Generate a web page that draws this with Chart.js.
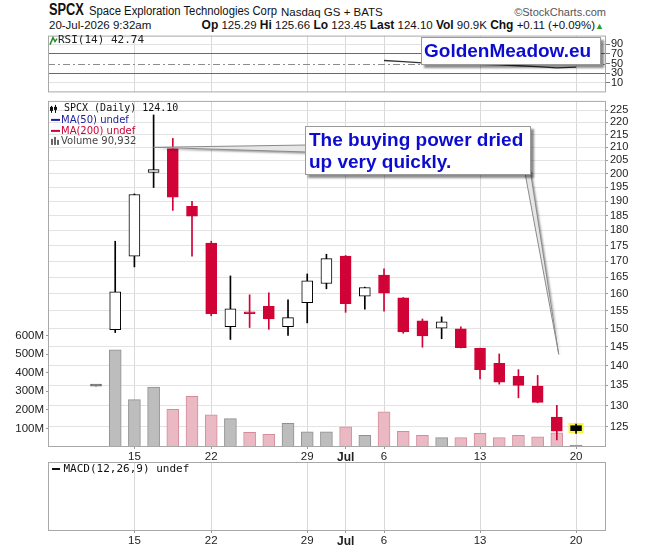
<!DOCTYPE html>
<html>
<head>
<meta charset="utf-8">
<script src="https://cdn.jsdelivr.net/npm/chart.js@4"></script>
<style>
	body { margin: 0; background: #fff; width: 646px; height: 548px; overflow: hidden; position: relative; font-family: "Liberation Sans", Arial, sans-serif; color: #111; }
	canvas { position: absolute; left: 0; }
	.txt { position: absolute; white-space: nowrap; }
	.narrow { display: inline-block; transform-origin: 0 50%; }
	.note { position: absolute; background: #fff; border: 1px solid #9a9a9a; box-shadow: 3px 3px 2px rgba(0, 0, 0, 0.45); color: #0c0cd0; font-weight: bold; font-size: 19px; box-sizing: border-box; white-space: nowrap; }
</style>
</head>
<body>
<div class="txt" style="left:49px;top:0px;line-height:20px;font-size:16px;font-weight:bold;"><span class="narrow" style="transform:scaleX(0.8)">SPCX</span></div>
<div class="txt" style="left:89px;top:2px;line-height:18px;font-size:12px;"><span class="narrow" style="transform:scaleX(0.94)">Space Exploration Technologies Corp</span></div>
<div class="txt" style="left:281px;top:3px;line-height:18px;font-size:11.5px;">Nasdaq GS + BATS</div>
<div class="txt" style="right:40px;top:3px;line-height:18px;font-size:11px;color:#555;">&copy;StockCharts.com</div>
<div class="txt" style="left:49px;top:18px;line-height:15px;font-size:11.5px;">20-Jul-2026 9:32am</div>
<div class="txt" style="right:42px;top:18px;line-height:15px;font-size:11.5px;"><b style="font-size:12px">Op</b> 125.29 <b style="font-size:12px">Hi</b> 125.66 <b style="font-size:12px">Lo</b> 123.45 <b style="font-size:12px">Last</b> 124.10 <b style="font-size:12px">Vol</b> 90.9K <b style="font-size:12px">Chg</b> +0.11 (+0.09%)<span style="color:#2a9d2a;font-size:9px;">&#9650;</span></div>

<canvas id="rsiCanvas" width="646" height="72" style="top:28px"></canvas>
<canvas id="mainCanvas" width="646" height="370" style="top:92px"></canvas>
<canvas id="macdCanvas" width="646" height="93" style="top:455px"></canvas>

<div id="brandBox" class="note"></div>
<div id="calloutBox" class="note"></div>

<script>
const dates = ["2026-06-11", "2026-06-12", "2026-06-15", "2026-06-16", "2026-06-17", "2026-06-18", "2026-06-22", "2026-06-23", "2026-06-24", "2026-06-25", "2026-06-26", "2026-06-29", "2026-06-30", "2026-07-01", "2026-07-02", "2026-07-06", "2026-07-07", "2026-07-08", "2026-07-09", "2026-07-10", "2026-07-13", "2026-07-14", "2026-07-15", "2026-07-16", "2026-07-17", "2026-07-20"];
const opens = [134.8, 149.7, 171.6, 200.4, 209.5, 188.2, 175.8, 150.5, 154.4, 156.3, 150.5, 157.4, 163.1, 171.6, 159.3, 165.7, 158.8, 152.2, 150.1, 149.9, 144.6, 140.6, 137.3, 134.8, 127.3, 125.29];
const highs = [134.8, 176.4, 192.6, 223.0, 213.5, 190.0, 176.4, 165.4, 159.7, 160.3, 158.2, 166.0, 172.2, 171.8, 162.0, 167.6, 158.9, 152.7, 153.3, 150.5, 144.7, 143.1, 139.0, 137.5, 130.1, 125.66];
const lows = [134.8, 148.9, 168.2, 194.9, 186.8, 171.6, 153.6, 147.0, 150.3, 149.8, 148.1, 151.6, 161.5, 154.6, 155.5, 154.9, 148.7, 144.9, 147.2, 144.7, 136.6, 135.3, 131.9, 130.7, 122.0, 123.45];
const closes = [134.8, 160.6, 192.4, 201.5, 191.4, 184.8, 154.2, 155.6, 154.2, 152.7, 153.1, 163.9, 170.8, 157.1, 161.9, 160.2, 149.1, 148.0, 151.9, 144.8, 139.0, 135.8, 135.0, 130.8, 123.99, 124.10];
// volume in millions of shares
const volumes = [null, 522, 255, 322, 202, 273, 173, 153, 79, 68, 127, 82, 82, 109, 63, 189, 84, 63, 50, 50, 73, 50, 63, 55, 76, 0.090932];
const rsiValues = [null, null, null, null, null, null, null, null, null, null, null, null, null, null, null, 56.4, 54.0, 51.5, 50.5, 49.5, 48.5, 47.2, 45.5, 43.5, 41.2, 42.74];

const priceTicks = [125, 130, 135, 140, 145, 150, 155, 160, 165, 170, 175, 180, 185, 190, 195, 200, 205, 210, 215, 220, 225];
const volumeTicks = [100, 200, 300, 400, 500, 600];
const rsiTicks = [10, 30, 50, 70, 90];
const tickDates = ["2026-06-15", "2026-06-22", "2026-06-29", "2026-07-01", "2026-07-06", "2026-07-13", "2026-07-20"];
const tickLabels = ["15", "22", "29", "Jul", "6", "13", "20"];

const brandText = "GoldenMeadow.eu";
const calloutText = ["The buying power dried", "up very quickly."];

const RED = "rgb(208, 2, 54)";
const tickIndexes = tickDates.map((d) => dates.indexOf(d));
const xRange = { min: -2.5, max: 26.56 };

const candleColor = (i) => {
	if (i === 0) return "#666666";
	return closes[i] >= closes[i - 1] ? "#000000" : RED;
};

// placement of the two text boxes (page pixels)
const brand = { left: 421, top: 37, width: 180, height: 28 };
const callout = { left: 305, top: 126, width: 226, height: 49 };

const brandBox = document.getElementById("brandBox");
Object.assign(brandBox.style, { left: brand.left + "px", top: brand.top + "px", width: brand.width + "px", height: brand.height + "px", lineHeight: brand.height - 2 + "px", paddingLeft: "2px" });
brandBox.textContent = brandText;

const calloutBox = document.getElementById("calloutBox");
Object.assign(calloutBox.style, { left: callout.left + "px", top: callout.top + "px", width: callout.width + "px", height: callout.height + "px", lineHeight: "22px", padding: "2px 0 0 3px" });
calloutBox.innerHTML = calloutText.join("<br>");

const fixWidth = (w) => (scale) => {
	scale.width = w;
};
const fixHeight = (h) => (scale) => {
	scale.height = h;
};

const xAxis = (showLabels, height) => {
	return {
		type: "linear",
		min: xRange.min,
		max: xRange.max,
		offset: false,
		afterBuildTicks: (scale) => {
			scale.ticks = tickIndexes.map((v) => ({ value: v }));
		},
		afterFit: fixHeight(height),
		ticks: {
			display: showLabels,
			autoSkip: false,
			maxRotation: 0,
			padding: 1,
			color: "#222",
			font: (context) => {
				const isMonth = context.tick && tickLabels[tickIndexes.indexOf(context.tick.value)] === "Jul";
				return { family: "Liberation Sans", size: isMonth ? 12 : 11.5, weight: isMonth ? "bold" : "normal" };
			},
			callback: (value) => tickLabels[tickIndexes.indexOf(value)],
		},
		grid: {
			offset: false,
			color: "#d9d9d9",
			drawTicks: showLabels,
			tickLength: 2,
			tickColor: "#999",
		},
		border: { display: false },
	};
};

const drawFrame = (chart) => {
	const { ctx, chartArea } = chart;
	ctx.save();
	ctx.strokeStyle = "#a8a8a8";
	ctx.lineWidth = 1;
	ctx.strokeRect(chartArea.left + 0.5, chartArea.top + 0.5, chartArea.right - chartArea.left - 1, chartArea.bottom - chartArea.top - 1);
	ctx.restore();
};

const rsiOverlay = {
	id: "rsiOverlay",
	beforeDatasetsDraw(chart) {
		const { ctx, chartArea, scales } = chart;
		const y = Math.round(scales.y.getPixelForValue(50)) + 0.5;
		ctx.save();
		ctx.strokeStyle = "#8c8c8c";
		ctx.setLineDash([7, 3, 2, 3]);
		ctx.beginPath();
		ctx.moveTo(chartArea.left, y);
		ctx.lineTo(chartArea.right, y);
		ctx.stroke();
		ctx.restore();
	},
	afterDraw(chart) {
		const { ctx, chartArea } = chart;
		drawFrame(chart);
		ctx.save();
		// small chart icon
		ctx.strokeStyle = "#2a8a2a";
		ctx.lineWidth = 1.5;
		ctx.beginPath();
		ctx.moveTo(chartArea.left + 2, chartArea.top + 9);
		ctx.lineTo(chartArea.left + 5, chartArea.top + 2);
		ctx.lineTo(chartArea.left + 7, chartArea.top + 6);
		ctx.lineTo(chartArea.left + 9, chartArea.top + 3);
		ctx.stroke();
		ctx.fillStyle = "#222";
		ctx.font = '11px "DejaVu Sans Mono"';
		ctx.textBaseline = "middle";
		ctx.fillText("RSI(14) " + rsiValues[rsiValues.length - 1].toFixed(2), chartArea.left + 10, chartArea.top + 5);
		ctx.restore();
	},
};

const mainOverlay = {
	id: "mainOverlay",
	beforeDatasetsDraw(chart) {
		// yellow mark behind the latest candle
		const { ctx, scales } = chart;
		const last = dates.length - 1;
		const cx = scales.x.getPixelForValue(last);
		const top = scales.y.getPixelForValue(Math.max(opens[last], closes[last]));
		const bottom = scales.y.getPixelForValue(Math.min(opens[last], closes[last]));
		ctx.save();
		ctx.fillStyle = "#f6f63a";
		ctx.fillRect(cx - 7.5, top - 2.5, 15, bottom - top + 5);
		ctx.restore();
	},
	afterDatasetsDraw(chart) {
		const { ctx, scales, canvas } = chart;
		const offsetY = parseFloat(canvas.style.top);
		const boxL = callout.left;
		const boxT = callout.top - offsetY;
		const pointers = [
			{ tip: [scales.x.getPixelForValue(3), scales.y.getPixelForValue(210)], a: [boxL + 2, boxT + 19], b: [boxL + 2, boxT + 26] },
			{ tip: [scales.x.getPixelForValue(24.1), scales.y.getPixelForValue(143)], a: [boxL + callout.width - 6, boxT + callout.height - 2], b: [boxL + callout.width - 1, boxT + callout.height - 6] },
		];
		ctx.save();
		pointers.forEach((p) => {
			ctx.shadowColor = "rgba(0,0,0,0.35)";
			ctx.shadowOffsetX = 2;
			ctx.shadowOffsetY = 2;
			ctx.shadowBlur = 2;
			ctx.beginPath();
			ctx.moveTo(p.tip[0], p.tip[1]);
			ctx.lineTo(p.a[0], p.a[1]);
			ctx.lineTo(p.b[0], p.b[1]);
			ctx.closePath();
			ctx.fillStyle = "#e6e6e6";
			ctx.fill();
			ctx.shadowColor = "transparent";
			ctx.strokeStyle = "#8a8a8a";
			ctx.lineWidth = 1;
			ctx.stroke();
		});
		ctx.restore();
	},
	afterDraw(chart) {
		const { ctx, chartArea } = chart;
		drawFrame(chart);
		const x = chartArea.left;
		const y = chartArea.top;
		ctx.save();
		ctx.textBaseline = "middle";
		// legend icons
		ctx.fillStyle = "#111";
		ctx.fillRect(x + 3, y + 5, 1, 7);
		ctx.fillRect(x + 2, y + 6, 3, 4);
		ctx.fillRect(x + 7, y + 4, 1, 8);
		ctx.fillRect(x + 6, y + 6, 3, 3);
		ctx.fillStyle = "#1c1c9c";
		ctx.fillRect(x + 3, y + 18, 9, 2);
		ctx.fillStyle = RED;
		ctx.fillRect(x + 3, y + 29, 9, 2);
		ctx.fillStyle = "#666";
		ctx.fillRect(x + 3, y + 38, 2, 6);
		ctx.fillRect(x + 6, y + 36, 2, 8);
		ctx.fillRect(x + 9, y + 39, 2, 5);
		// legend text
		ctx.font = '10px "DejaVu Sans Mono"';
		ctx.fillStyle = "#111";
		ctx.fillText("SPCX (Daily) " + closes[closes.length - 1].toFixed(2), x + 16, y + 8);
		ctx.font = '10px "DejaVu Sans"';
		ctx.fillStyle = "#1c1c9c";
		ctx.fillText("MA(50) undef", x + 13, y + 19.5);
		ctx.fillStyle = RED;
		ctx.fillText("MA(200) undef", x + 13, y + 30.5);
		ctx.fillStyle = "#444";
		const lastVol = Math.round(volumes[volumes.length - 1] * 1e6);
		ctx.fillText("Volume " + lastVol.toLocaleString("en-US"), x + 13, y + 41);
		ctx.restore();
	},
};

const macdOverlay = {
	id: "macdOverlay",
	afterDraw(chart) {
		const { ctx, chartArea } = chart;
		drawFrame(chart);
		ctx.save();
		ctx.fillStyle = "#111";
		ctx.fillRect(chartArea.left + 4, chartArea.top + 6, 8, 2);
		ctx.font = '11px "DejaVu Sans Mono"';
		ctx.textBaseline = "middle";
		ctx.fillText("MACD(12,26,9) undef", chartArea.left + 15.5, chartArea.top + 7.5);
		ctx.restore();
	},
};

const createRsiChart = () => {
	const data = [];
	rsiValues.forEach((v, i) => {
		if (v !== null) data.push({ x: i, y: v });
	});
	return new Chart(document.getElementById("rsiCanvas"), {
		type: "line",
		data: {
			datasets: [
				{
					data: data,
					borderColor: "#333",
					borderWidth: 1.3,
					pointRadius: 0,
					tension: 0,
				},
			],
		},
		options: {
			responsive: false,
			animation: false,
			layout: { padding: { left: 48, top: 4, bottom: 3, right: 0 } },
			plugins: { legend: { display: false }, tooltip: { enabled: false } },
			scales: {
				x: xAxis(false, 0),
				y: {
					type: "linear",
					position: "right",
					min: -10,
					max: 108.3,
					afterFit: fixWidth(40),
					afterBuildTicks: (scale) => {
						scale.ticks = rsiTicks.map((v) => ({ value: v }));
					},
					ticks: { autoSkip: false, color: "#222", padding: 1, font: { family: "Liberation Sans", size: 11 } },
					grid: {
						tickLength: 4,
						tickColor: "#777",
						color: (context) => {
							const v = context.tick.value;
							if (v === 30 || v === 70) return "#6a6a6a";
							if (v === 50) return "rgba(0,0,0,0)";
							return "#e2e2e2";
						},
					},
					border: { display: false },
				},
			},
		},
		plugins: [rsiOverlay],
	});
};

const createMainChart = () => {
	const idx = dates.map((d, i) => i);
	const bodyColors = idx.map((i) => (closes[i] >= opens[i] && i > 0 ? "#ffffff" : candleColor(i)));
	const volumeFill = idx.map((i) => (i > 0 && closes[i] > closes[i - 1] ? "#bdbdbd" : "#ebb9c4"));
	const volumeBorder = idx.map((i) => (i > 0 && closes[i] > closes[i - 1] ? "#909090" : "#d48c9c"));
	return new Chart(document.getElementById("mainCanvas"), {
		type: "bar",
		data: {
			datasets: [
				{
					label: "body",
					data: idx.map((i) => ({ x: i, y: [opens[i], closes[i]] })),
					backgroundColor: bodyColors,
					borderColor: idx.map(candleColor),
					borderWidth: 1,
					borderSkipped: false,
					barThickness: 11,
					minBarLength: 2,
					grouped: false,
					yAxisID: "y",
					order: 1,
				},
				{
					label: "wick",
					data: idx.map((i) => ({ x: i, y: [lows[i], highs[i]] })),
					backgroundColor: idx.map(candleColor),
					borderWidth: 0,
					barThickness: 1,
					grouped: false,
					yAxisID: "y",
					order: 2,
				},
				{
					label: "volume",
					data: idx.map((i) => ({ x: i, y: volumes[i] })),
					backgroundColor: volumeFill,
					borderColor: volumeBorder,
					borderWidth: 1,
					barThickness: 12,
					minBarLength: 2,
					grouped: false,
					yAxisID: "vol",
					order: 3,
				},
			],
		},
		options: {
			responsive: false,
			animation: false,
			layout: { padding: { left: 0, top: 7, bottom: 0, right: 0 } },
			plugins: { legend: { display: false }, tooltip: { enabled: false } },
			scales: {
				x: xAxis(true, 15),
				y: {
					type: "logarithmic",
					position: "right",
					min: 120.4,
					max: 228.9,
					afterFit: fixWidth(40),
					afterBuildTicks: (scale) => {
						scale.ticks = priceTicks.map((v) => ({ value: v }));
					},
					ticks: {
						autoSkip: false,
						color: "#222",
						padding: 2,
						font: { family: "Liberation Sans", size: 11 },
						callback: (value) => String(value),
					},
					grid: { color: "#e3e3e3", tickLength: 2, tickColor: "#999" },
					border: { display: false },
				},
				vol: {
					type: "linear",
					position: "left",
					min: 0,
					max: 1861,
					afterFit: fixWidth(48),
					afterBuildTicks: (scale) => {
						scale.ticks = volumeTicks.map((v) => ({ value: v }));
					},
					ticks: {
						autoSkip: false,
						color: "#222",
						padding: 2,
						font: { family: "Liberation Sans", size: 11.5 },
						callback: (value) => value + "M",
					},
					grid: { drawOnChartArea: false, tickLength: 2, tickColor: "#999" },
					border: { display: false },
				},
			},
		},
		plugins: [mainOverlay],
	});
};

const createMacdChart = () => {
	return new Chart(document.getElementById("macdCanvas"), {
		type: "line",
		data: { datasets: [] },
		options: {
			responsive: false,
			animation: false,
			layout: { padding: { left: 48, top: 7, bottom: 0, right: 0 } },
			plugins: { legend: { display: false }, tooltip: { enabled: false } },
			scales: {
				x: xAxis(true, 17),
				y: {
					type: "linear",
					position: "right",
					min: 0,
					max: 1,
					afterFit: fixWidth(40),
					ticks: { display: false },
					grid: { display: false },
					border: { display: false },
				},
			},
		},
		plugins: [macdOverlay],
	});
};

createRsiChart();
createMainChart();
createMacdChart();
</script>
</body>
</html>
